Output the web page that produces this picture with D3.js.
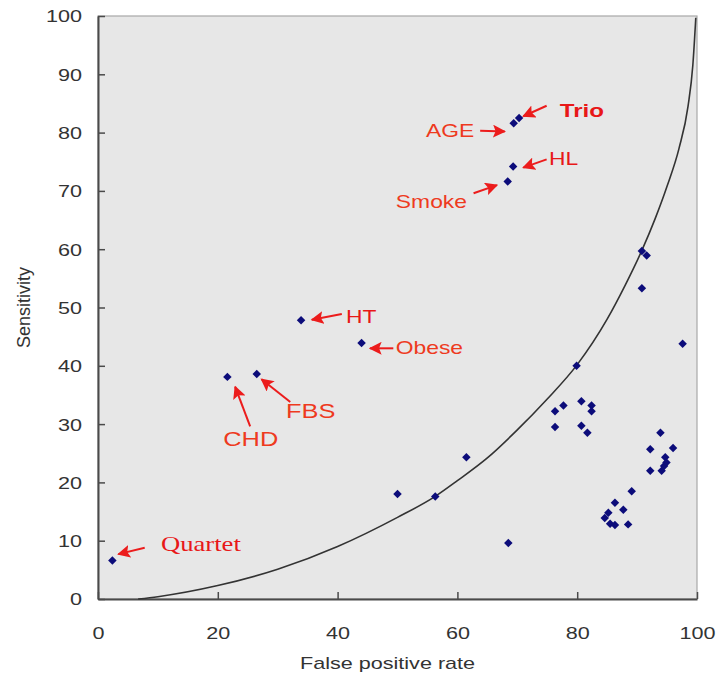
<!DOCTYPE html>
<html>
<head>
<meta charset="utf-8">
<script src="https://cdn.jsdelivr.net/npm/d3@7"></script>
<style>
  html, body { margin: 0; padding: 0; background: #fff; }
  svg text { font-family: Arial, "Liberation Sans", sans-serif; }
</style>
</head>
<body>
<div id="chart"></div>
<script>
// --- data ---
const fprTicks = [0, 20, 40, 60, 80, 100];
const sensTicks = [0, 10, 20, 30, 40, 50, 60, 70, 80, 90, 100];

// scatter points [false positive rate, sensitivity]
const fprValues = [69.4, 70.3, 69.3, 68.4, 33.9, 44.0, 21.6, 26.5, 2.4,
  90.8, 91.6, 90.8, 97.6, 79.9, 76.3, 77.7, 80.7, 82.4, 82.4, 76.3, 80.7, 81.7,
  61.5, 50.0, 56.3, 68.5,
  93.9, 92.2, 96.0, 94.7, 92.2, 94.1, 94.5, 94.9,
  89.1, 86.3, 87.7, 85.2, 84.6, 85.5, 86.3, 88.5];
const sensValues = [81.6, 82.5, 74.2, 71.6, 47.8, 43.9, 38.1, 38.6, 6.6,
  59.7, 58.9, 53.3, 43.8, 40.0, 32.2, 33.2, 33.9, 33.2, 32.2, 29.5, 29.7, 28.5,
  24.3, 18.0, 17.6, 9.6,
  28.5, 25.7, 25.9, 24.3, 22.0, 22.0, 22.8, 23.4,
  18.5, 16.5, 15.3, 14.8, 13.9, 12.9, 12.7, 12.8];

// reference curve
const curveFpr = [6.7, 10, 20, 30, 40, 50, 56.3, 60, 65, 70, 75, 80, 85, 88, 90.8, 93, 95, 97, 98.5, 99.3, 99.8];
const curveSens = [0, 0.4, 2.3, 5.1, 9.0, 14.0, 17.6, 20.3, 24.2, 29.0, 34.3, 40.2, 48.0, 53.8, 59.8, 65.2, 70.8, 77.3, 84.5, 91.5, 99.7];

// annotation labels
const labelNames = ["Trio", "AGE", "HL", "Smoke", "HT", "Obese", "FBS", "CHD", "Quartet"];
// where each label sits, in data units, and which side it is anchored on
const labelFpr = [77.1, 62.8, 75.3, 61.6, 41.4, 49.7, 31.4, 20.9, 10.5];
const labelSens = [83.9, 80.4, 75.6, 68.1, 48.5, 43.2, 32.2, 27.4, 9.6];
const labelAnchor = ["start", "end", "start", "end", "start", "start", "start", "start", "start"];
// arrows: tail -> head, data units
const arrowTail = [[74.9, 84.6], [63.8, 80.3], [74.9, 75.4], [62.7, 69.6], [40.7, 48.9], [49.3, 43.0], [32.1, 33.8], [25.4, 29.6], [7.8, 8.8]];
const arrowHead = [[71.0, 82.8], [67.9, 80.2], [71.0, 74.0], [66.6, 71.0], [35.7, 47.9], [45.4, 43.0], [27.3, 37.7], [22.9, 36.4], [3.4, 7.7]];

// --- layout ---
const width = 718, height = 679;
const plot = {left: 98, right: 697, top: 16, bottom: 599};
const stretch = 1.27; // the source text is drawn wide

const svg = d3.select("#chart").append("svg")
    .attr("width", width)
    .attr("height", height);

const x = d3.scaleLinear().domain([0, 100]).range([plot.left, plot.right]);
const y = d3.scaleLinear().domain([0, 100]).range([plot.bottom, plot.top]);

// plot background
svg.append("rect")
    .attr("x", plot.left).attr("y", plot.top)
    .attr("width", plot.right - plot.left)
    .attr("height", plot.bottom - plot.top)
    .attr("fill", "#e7e7e7")
    .attr("stroke", "#a8a8a8")
    .attr("stroke-width", 1.2);

// axes
const xAxis = svg.append("g")
    .attr("transform", `translate(0,${plot.bottom})`)
    .call(d3.axisBottom(x).tickValues(fprTicks).tickSizeInner(-7).tickSizeOuter(0));
const yAxis = svg.append("g")
    .attr("transform", `translate(${plot.left},0)`)
    .call(d3.axisLeft(y).tickValues(sensTicks).tickSizeInner(-7).tickSizeOuter(0));

[xAxis, yAxis].forEach(g => {
    g.select(".domain").attr("stroke", "#4a4a4a").attr("stroke-width", 2);
    g.selectAll(".tick line").attr("stroke", "#4a4a4a").attr("stroke-width", 1.5);
    g.selectAll(".tick text")
        .attr("fill", "#333")
        .style("font-size", "17px");
});
xAxis.selectAll(".tick text")
    .attr("y", 0).attr("dy", null)
    .attr("transform", `translate(0,40) scale(${stretch},1)`);
yAxis.selectAll(".tick text")
    .attr("x", 0).attr("dy", "0.35em")
    .attr("transform", `translate(-16,0) scale(${stretch},1)`);

// axis titles
svg.append("text")
    .attr("transform", `translate(${(plot.left + plot.right) / 2 - 10},669) scale(${stretch},1)`)
    .attr("text-anchor", "middle")
    .attr("fill", "#333")
    .style("font-size", "17px")
    .text("False positive rate");

svg.append("text")
    .attr("transform", `translate(30,${(plot.top + plot.bottom) / 2}) rotate(-90)`)
    .attr("text-anchor", "middle")
    .attr("fill", "#333")
    .style("font-size", "18px")
    .text("Sensitivity");

// curve
const curveData = curveFpr.map((d, i) => [d, curveSens[i]]);
svg.append("path")
    .datum(curveData)
    .attr("fill", "none")
    .attr("stroke", "#333")
    .attr("stroke-width", 1.6)
    .attr("d", d3.line().x(d => x(d[0])).y(d => y(d[1])).curve(d3.curveMonotoneX));

// points
const points = fprValues.map((d, i) => ({fpr: d, sens: sensValues[i]}));
svg.append("g").selectAll("path")
    .data(points)
    .enter()
    .append("path")
    .attr("d", d3.symbol().type(d3.symbolSquare).size(36))
    .attr("transform", d => `translate(${x(d.fpr)},${y(d.sens)}) rotate(45)`)
    .attr("fill", "#0c0c7a");

// arrows
const red = "#ec1c1c";
svg.append("defs").append("marker")
    .attr("id", "head")
    .attr("viewBox", "0 0 10 10")
    .attr("refX", 9).attr("refY", 5)
    .attr("markerWidth", 6.5).attr("markerHeight", 6.5)
    .attr("markerUnits", "strokeWidth")
    .attr("orient", "auto")
  .append("path")
    .attr("d", "M0,0 L10,5 L0,10 L2,5 Z")
    .attr("fill", red);

svg.append("g").selectAll("line")
    .data(arrowTail)
    .enter()
    .append("line")
    .attr("x1", d => x(d[0]))
    .attr("y1", d => y(d[1]))
    .attr("x2", (d, i) => x(arrowHead[i][0]))
    .attr("y2", (d, i) => y(arrowHead[i][1]))
    .attr("stroke", red)
    .attr("stroke-width", 2)
    .attr("marker-end", "url(#head)");

// labels
const labelSize = [19, 18, 18, 18, 18, 18, 20, 20, 21];
svg.append("g").selectAll("text")
    .data(labelNames)
    .enter()
    .append("text")
    .attr("transform", (d, i) => `translate(${x(labelFpr[i])},${y(labelSens[i])}) scale(${stretch},1)`)
    .attr("dy", "0.36em")
    .attr("text-anchor", (d, i) => labelAnchor[i])
    .attr("fill", (d, i) => (d === "Trio" || d === "HL" || d === "HT" || d === "Quartet") ? "#e81818" : "#ee3a1e")
    .style("font-size", (d, i) => labelSize[i] + "px")
    .style("font-weight", d => d === "Trio" ? "bold" : "normal")
    .style("font-family", d => d === "Quartet" ? "'Liberation Serif', 'DejaVu Serif', serif" : null)
    .text(d => d);
</script>
</body>
</html>
